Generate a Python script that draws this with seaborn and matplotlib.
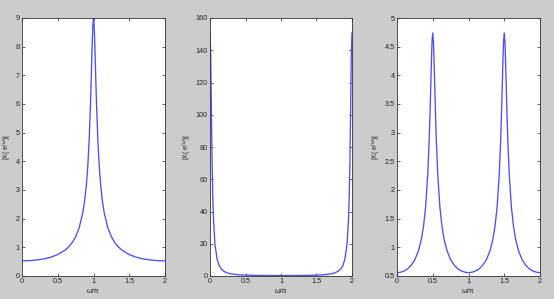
import matplotlib
matplotlib.use("Agg")
import matplotlib.pyplot as plt
import seaborn as sns
import pandas as pd

# ---- data ----
left_x = [0, 0.1, 0.2, 0.3, 0.4, 0.5, 0.6, 0.65, 0.7, 0.75, 0.8, 0.85, 0.875, 0.9, 0.92, 0.94, 0.96, 0.98, 0.99, 1.0,
          1.01, 1.02, 1.04, 1.06, 1.08, 1.1, 1.125, 1.15, 1.2, 1.25, 1.3, 1.35, 1.4, 1.5, 1.6, 1.7, 1.8, 1.9, 2.0]
left_y = [0.529, 0.536, 0.557, 0.594, 0.654, 0.747, 0.898, 1.009, 1.158, 1.370, 1.686, 2.203, 2.60, 3.17, 3.83, 4.78, 6.16, 7.94, 8.70, 9.0,
          8.70, 7.94, 6.16, 4.78, 3.83, 3.17, 2.60, 2.203, 1.686, 1.370, 1.158, 1.009, 0.898, 0.747, 0.654, 0.594, 0.557, 0.536, 0.529]

mid_x = [0, 0.01, 0.02, 0.03, 0.04, 0.05, 0.07, 0.1, 0.13, 0.16, 0.2, 0.25, 0.3, 0.4, 0.5, 0.6, 0.7, 0.8, 0.9, 1.0,
         1.1, 1.2, 1.3, 1.4, 1.5, 1.6, 1.7, 1.75, 1.8, 1.84, 1.87, 1.9, 1.93, 1.95, 1.96, 1.97, 1.98, 1.99, 2.0]
mid_y = [152, 137, 99.7, 68.7, 47.8, 34.4, 19.7, 10.4, 6.35, 4.27, 2.79, 1.83, 1.31, 0.78, 0.54, 0.41, 0.34, 0.30, 0.28, 0.27,
         0.28, 0.30, 0.34, 0.41, 0.54, 0.78, 1.31, 1.83, 2.79, 4.27, 6.35, 10.4, 19.7, 34.4, 47.8, 68.7, 99.7, 137, 151]

right_x = [0, 0.05, 0.1, 0.15, 0.2, 0.25, 0.3, 0.34, 0.37, 0.4, 0.43, 0.45, 0.46, 0.47, 0.48, 0.49, 0.5,
           0.51, 0.52, 0.53, 0.54, 0.55, 0.57, 0.6, 0.63, 0.66, 0.7, 0.75, 0.8, 0.85, 0.9, 0.95, 1.0,
           1.05, 1.1, 1.15, 1.2, 1.25, 1.3, 1.34, 1.37, 1.4, 1.43, 1.45, 1.46, 1.47, 1.48, 1.49, 1.5,
           1.51, 1.52, 1.53, 1.54, 1.55, 1.57, 1.6, 1.63, 1.66, 1.7, 1.75, 1.8, 1.85, 1.9, 1.95, 2.0]
right_y = [0.559, 0.566, 0.587, 0.626, 0.688, 0.785, 0.939, 1.134, 1.358, 1.70, 2.27, 2.87, 3.26, 3.71, 4.19, 4.58, 4.74,
           4.58, 4.19, 3.71, 3.26, 2.87, 2.27, 1.70, 1.358, 1.134, 0.939, 0.785, 0.688, 0.626, 0.587, 0.566, 0.559,
           0.566, 0.587, 0.626, 0.688, 0.785, 0.939, 1.134, 1.358, 1.70, 2.27, 2.87, 3.26, 3.71, 4.19, 4.58, 4.74,
           4.58, 4.19, 3.71, 3.26, 2.87, 2.27, 1.70, 1.358, 1.134, 0.939, 0.785, 0.688, 0.626, 0.587, 0.566, 0.559]

x_ticks = [0, 0.5, 1, 1.5, 2]
x_ticklabels = ["0", "0.5", "1", "1.5", "2"]
left_yticks = [0, 1, 2, 3, 4, 5, 6, 7, 8, 9]
mid_yticks = [0, 20, 40, 60, 80, 100, 120, 140, 160]
right_yticks = [0.5, 1, 1.5, 2, 2.5, 3, 3.5, 4, 4.5, 5]
x_label = "ω/π"
y_label = r"|X( e$^{j\omega}$)|"

sns.set_style("ticks")
plt.rcParams["font.family"] = ["Liberation Sans", "DejaVu Sans"]
plt.rcParams["mathtext.fontset"] = "dejavusans"

fig = plt.figure(figsize=(5.54, 2.99), dpi=100, facecolor="#cccccc")

positions = [
    [22 / 554, 23 / 299, 143 / 554, 258 / 299],
    [210 / 554, 23 / 299, 142 / 554, 258 / 299],
    [397 / 554, 23 / 299, 143 / 554, 258 / 299],
]
panels = [
    (left_x, left_y, left_yticks, (0, 9)),
    (mid_x, mid_y, mid_yticks, (0, 160)),
    (right_x, right_y, right_yticks, (0.5, 5)),
]

for pos, (xs, ys, yt, ylim) in zip(positions, panels):
    ax = fig.add_axes(pos)
    ax.set_facecolor("white")
    df = pd.DataFrame({"x": xs, "y": ys})
    sns.lineplot(data=df, x="x", y="y", ax=ax, color="#4d4dff", linewidth=0.95, sort=False)
    ax.set_xlim(0, 2)
    ax.set_ylim(*ylim)
    ax.set_xticks(x_ticks)
    ax.set_xticklabels(x_ticklabels)
    ax.set_yticks(yt)
    ax.set_yticklabels(["%g" % v for v in yt])
    ax.tick_params(direction="in", length=2.5, width=0.5, labelsize=5.2, colors="#222222",
                   top=True, right=True, pad=1.5)
    for sp in ax.spines.values():
        sp.set_visible(True)
        sp.set_linewidth(0.6)
        sp.set_color("#333333")
    ax.set_xlabel(x_label, fontsize=5.2, labelpad=2, color="#222222")
    ax.set_ylabel(y_label, fontsize=5, labelpad=1, color="#222222")

fig.savefig("out.png", dpi=100, facecolor=fig.get_facecolor())
